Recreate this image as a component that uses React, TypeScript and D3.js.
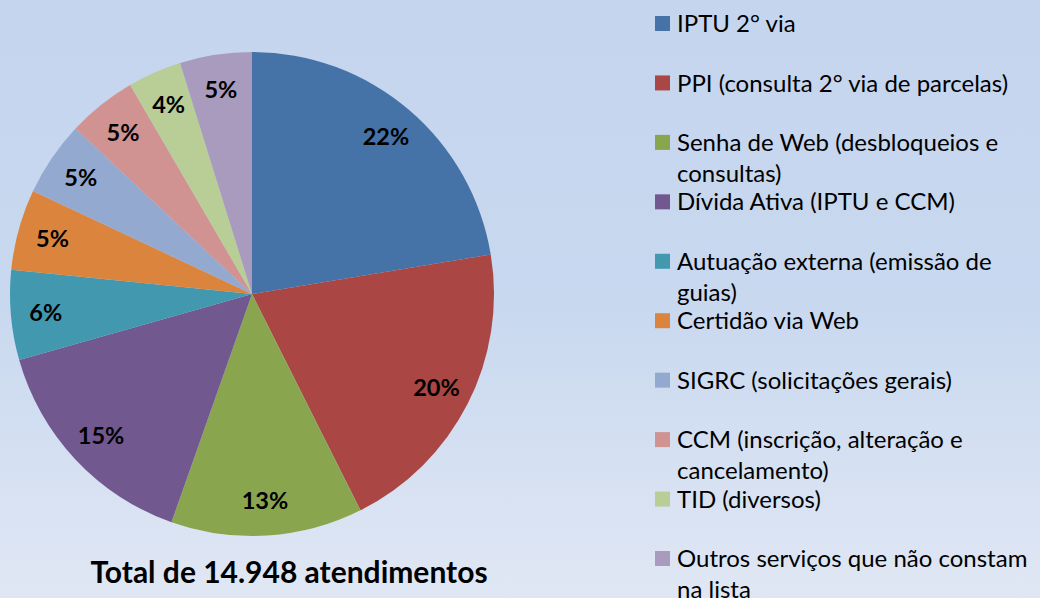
import { useEffect } from 'react';
import * as d3 from 'd3';

const categories = [
    'IPTU 2° via',
    'PPI (consulta 2° via de parcelas)',
    'Senha de Web (desbloqueios e consultas)',
    'Dívida Ativa (IPTU e CCM)',
    'Autuação externa (emissão de guias)',
    'Certidão via Web',
    'SIGRC (solicitações gerais)',
    'CCM (inscrição, alteração e cancelamento)',
    'TID (diversos)',
    'Outros serviços que não constam na lista',
];

// how the legend text wraps in the original
const legendLines = [
    ['IPTU 2° via'],
    ['PPI (consulta 2° via de parcelas)'],
    ['Senha de Web (desbloqueios e', 'consultas)'],
    ['Dívida Ativa (IPTU e CCM)'],
    ['Autuação externa (emissão de', 'guias)'],
    ['Certidão via Web'],
    ['SIGRC (solicitações gerais)'],
    ['CCM (inscrição, alteração e', 'cancelamento)'],
    ['TID (diversos)'],
    ['Outros serviços que não constam', 'na lista'],
];

// atendimentos per service (total 14.948)
const counts = [3348, 3020, 1913, 2272, 897, 807, 747, 688, 538, 718];

const colors = ['#4572a7', '#aa4643', '#89a54e', '#71588f', '#4198af', '#db843d', '#93a9cf', '#d19392', '#b9cd96', '#a99bbd'];

const title = 'Total de 14.948 atendimentos';

const width = 1040, height = 598;
const cx = 252, cy = 294, radius = 242;

const App = () => {
    useEffect(() => {
        document.body.style.margin = '0';
    }, []);

    const total = d3.sum(counts);
    const pie = d3.pie<number>().sort(null).value((d) => d)(counts);
    const arc = d3.arc<d3.PieArcDatum<number>>().innerRadius(0).outerRadius(radius);
    const labelArc = d3.arc<d3.PieArcDatum<number>>().innerRadius(207).outerRadius(207);
    const pct = (v: number) => `${Math.round((v / total) * 100)}%`;

    const legendY = d3.scaleLinear().domain([0, categories.length - 1]).range([23.5, 558.5]);

    return (
        <svg width={width} height={height} style={{ display: 'block' }}>
            <defs>
                <linearGradient id="bg" x1="0" y1="0" x2="0" y2="1">
                    <stop offset="0" stopColor="#c5d5ee" />
                    <stop offset="0.5" stopColor="#c8d8ef" />
                    <stop offset="1" stopColor="#e0e7f4" />
                </linearGradient>
            </defs>
            <rect width={width} height={height} fill="url(#bg)" />

            <g transform={`translate(${cx},${cy})`}>
                {pie.map((d, i) => (
                    <path key={i} d={arc(d) || ''} fill={colors[i]} />
                ))}
                {pie.map((d, i) => {
                    const [x, y] = labelArc.centroid(d);
                    return (
                        <text key={i} x={x} y={y} dy="0.36em" textAnchor="middle"
                            fontFamily="Lato" fontWeight="bold" fontSize={23.5} fill="#000">
                            {pct(d.value)}
                        </text>
                    );
                })}
            </g>

            <text x={289} y={583} textAnchor="middle" fontFamily="Lato" fontWeight="bold" fontSize={30} fill="#000">
                {title}
            </text>

            <g fontFamily="Lato" fontSize={24} fill="#000">
                {categories.map((c, i) => (
                    <g key={c} transform={`translate(655,${legendY(i)})`}>
                        <rect x={0} y={-7.5} width={15} height={15} fill={colors[i]} />
                        {legendLines[i].map((line, j) => (
                            <text key={j} x={22} y={j * 31} dy="0.36em">{line}</text>
                        ))}
                    </g>
                ))}
            </g>
        </svg>
    );
};

export default App;
